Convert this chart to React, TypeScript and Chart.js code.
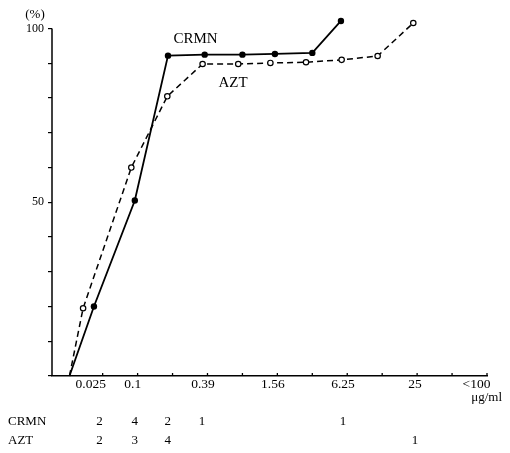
import React, { useEffect, useRef } from 'react';
import { Chart, registerables } from 'chart.js';

Chart.register(...registerables);

// Cumulative % curves (x in dilution-step position units, y in %)
const crmnX = [0.05, 0.75, 1.92, 2.87, 3.92, 5.0, 5.93, 7.0, 7.82];
const crmnY = [0, 20, 50.5, 92.2, 92.5, 92.5, 92.7, 93.0, 102.2];
const aztX = [0.05, 0.44, 1.82, 2.85, 3.86, 4.88, 5.8, 6.82, 7.84, 8.87, 9.89];
const aztY = [0, 19.5, 60, 80.5, 89.8, 89.8, 90.1, 90.3, 91.0, 92.1, 101.6];

// x-axis labels (concentration, µg/ml)
const xTickPos = [0.66, 1.86, 3.87, 5.87, 7.88, 9.94, 11.7];
const xTickLabels = ['0.025', '0.1', '0.39', '1.56', '6.25', '25', '<100'];
const xMarkPos = [1, 2, 3, 4, 5, 6, 7, 8, 9, 10, 11, 12];
const xUnit = 'μg/ml';

// y-axis
const yTickValues = [0, 10, 20, 30, 40, 50, 60, 70, 80, 90, 100];
const yLabelValues = [50, 100];
const yUnit = '(%)';

// series names + in-plot label positions (data units)
const seriesNames = ['CRMN', 'AZT'];
const seriesLabelX = [3.66, 4.73];
const seriesLabelY = [97.1, 84.2];

// strain counts per MIC
const crmnCountPos = [0.91, 1.92, 2.86, 3.84, 7.88];
const crmnCounts = [2, 4, 2, 1, 1];
const aztCountPos = [0.91, 1.92, 2.86, 9.94];
const aztCounts = [2, 3, 4, 1];

const FONT = '"Liberation Serif", "Times New Roman", "DejaVu Serif", serif';

export default function App() {
  const ref = useRef<HTMLCanvasElement>(null);

  useEffect(() => {
    if (!ref.current) return;

    const annot = {
      id: 'annot',
      beforeDatasetsDraw(chart: any) {
        const ctx = chart.ctx;
        const xs = chart.scales.x;
        const ys = chart.scales.y;
        const area = chart.chartArea;
        ctx.save();
        ctx.strokeStyle = '#000';
        ctx.lineWidth = 1.5;
        // y axis line from 0 to 100 %
        ctx.beginPath();
        ctx.moveTo(area.left, ys.getPixelForValue(0));
        ctx.lineTo(area.left, ys.getPixelForValue(100));
        ctx.stroke();
        // inward x tick marks
        ctx.lineWidth = 1.3;
        xMarkPos.forEach((v) => {
          const px = xs.getPixelForValue(v);
          ctx.beginPath();
          ctx.moveTo(px, area.bottom);
          ctx.lineTo(px, area.bottom - 3);
          ctx.stroke();
        });
        ctx.restore();
      },
      afterDraw(chart: any) {
        const ctx = chart.ctx;
        const xs = chart.scales.x;
        const ys = chart.scales.y;
        ctx.save();
        ctx.fillStyle = '#000';
        // y unit
        ctx.font = `13px ${FONT}`;
        ctx.textAlign = 'center';
        ctx.textBaseline = 'middle';
        ctx.fillText(yUnit, 35, 15);
        // series labels inside plot
        ctx.font = `15px ${FONT}`;
        seriesNames.forEach((n, i) => {
          ctx.fillText(n, xs.getPixelForValue(seriesLabelX[i]), ys.getPixelForValue(seriesLabelY[i]));
        });
        // unit under last x label
        ctx.font = `13px ${FONT}`;
        ctx.textAlign = 'right';
        ctx.fillText(xUnit, 502, 398);
        // count table
        const rowY = [422, 441];
        ctx.textAlign = 'left';
        seriesNames.forEach((n, i) => ctx.fillText(n, 8, rowY[i]));
        ctx.textAlign = 'center';
        crmnCounts.forEach((c, i) => ctx.fillText(String(c), xs.getPixelForValue(crmnCountPos[i]), rowY[0]));
        aztCounts.forEach((c, i) => ctx.fillText(String(c), xs.getPixelForValue(aztCountPos[i]), rowY[1]));
        ctx.restore();
      },
    };

    const chart = new Chart(ref.current, {
      type: 'line',
      data: {
        datasets: [
          {
            label: seriesNames[0],
            data: crmnX.map((x, i) => ({ x, y: crmnY[i] })),
            borderColor: '#000',
            borderWidth: 1.8,
            pointRadius: (c: any) => (c.dataIndex === 0 ? 0 : 3.2),
            pointBackgroundColor: '#000',
            pointBorderColor: '#000',
            pointBorderWidth: 0,
            tension: 0,
            clip: false,
          },
          {
            label: seriesNames[1],
            data: aztX.map((x, i) => ({ x, y: aztY[i] })),
            borderColor: '#000',
            borderWidth: 1.5,
            borderDash: [6, 4],
            pointRadius: (c: any) => (c.dataIndex === 0 ? 0 : 2.7),
            pointBackgroundColor: '#fff',
            pointBorderColor: '#000',
            pointBorderWidth: 1.2,
            tension: 0,
            clip: false,
          },
        ],
      },
      options: {
        animation: false,
        responsive: false,
        devicePixelRatio: 1,
        layout: { padding: { top: 10.6, right: 23, left: 0, bottom: 0 } },
        plugins: { legend: { display: false }, tooltip: { enabled: false } },
        scales: {
          x: {
            type: 'linear',
            min: -0.45,
            max: 12,
            afterFit: (s: any) => {
              s.height = 77;
            },
            afterBuildTicks: (s: any) => {
              s.ticks = xTickPos.map((v) => ({ value: v }));
            },
            grid: { display: false, drawTicks: false },
            border: { display: true, color: '#000', width: 1.5 },
            ticks: {
              autoSkip: false,
              maxRotation: 0,
              padding: 0,
              color: '#000',
              font: { family: FONT, size: 13.5 },
              callback: (_v: any, i: number) => xTickLabels[i],
            },
          },
          y: {
            type: 'linear',
            min: 0,
            max: 105,
            afterFit: (s: any) => {
              s.width = 52;
            },
            afterBuildTicks: (s: any) => {
              s.ticks = yTickValues.map((v) => ({ value: v }));
            },
            grid: { display: true, drawOnChartArea: false, drawTicks: true, tickLength: 4, color: '#000', lineWidth: 1.2 },
            border: { display: false },
            ticks: {
              autoSkip: false,
              padding: 4,
              color: '#000',
              font: { family: FONT, size: 12 },
              callback: (v: any) => (yLabelValues.includes(Number(v)) ? String(v) : ''),
            },
          },
        },
      },
      plugins: [annot],
    } as any);

    return () => chart.destroy();
  }, []);

  return (
    <div style={{ position: 'fixed', left: 0, top: 0, width: 510, height: 453, background: '#fff' }}>
      <canvas ref={ref} width={510} height={453} />
    </div>
  );
}
